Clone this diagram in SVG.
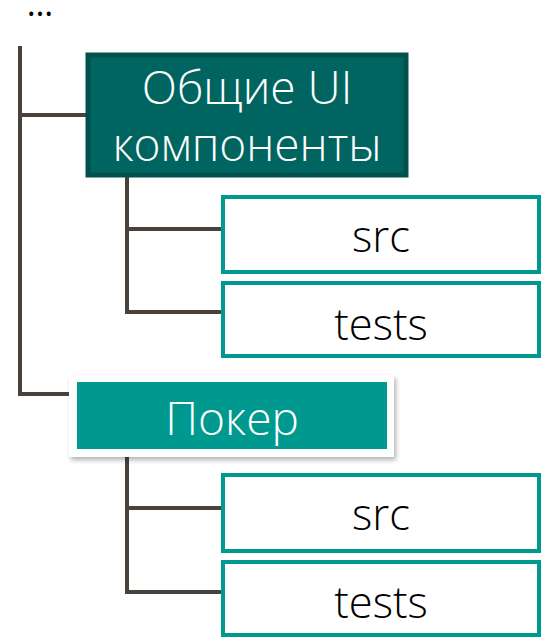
<svg xmlns="http://www.w3.org/2000/svg" width="541" height="637" viewBox="0 0 541 637">
<defs>
<style>
.ln{stroke:#4b413b;stroke-width:4;fill:none;stroke-linecap:square}
.leaf{fill:#ffffff;stroke:#00998f;stroke-width:4}
.lt{font-family:"Open Sans","Noto Sans",sans-serif;font-size:43.5px;font-weight:300;fill:#000000;text-anchor:middle}
.wt{font-family:"Open Sans","Noto Sans",sans-serif;font-size:46px;font-weight:300;fill:#ffffff;text-anchor:middle}
</style>
<filter id="sh" x="-10%" y="-20%" width="120%" height="150%">
<feDropShadow dx="2" dy="3" stdDeviation="2.5" flood-color="#000000" flood-opacity="0.3"/>
</filter>
</defs>
<text x="40" y="16" font-family="Open Sans, sans-serif" font-size="34" fill="#000" text-anchor="middle">…</text>
<g id="connectors">
<path class="ln" d="M20,48 V394 H72"/>
<path class="ln" d="M20,115 H86"/>
<path class="ln" d="M127,179 V312 H221"/>
<path class="ln" d="M127,229 H221"/>
<path class="ln" d="M127,459 V592 H221"/>
<path class="ln" d="M127,508 H221"/>
</g>
<g id="node-common">
<rect x="88" y="55" width="318" height="120" fill="#006560" stroke="#00504b" stroke-width="5"/>
<text class="wt" x="247" y="104">Общие UI</text>
<text class="wt" x="247" y="161">компоненты</text>
</g>
<g id="node-src1">
<rect class="leaf" x="223" y="197" width="316" height="75"/>
<text class="lt" x="381" y="252">src</text>
</g>
<g id="node-tests1">
<rect class="leaf" x="223" y="283" width="316" height="73"/>
<text class="lt" x="381" y="340">tests</text>
</g>
<g id="node-poker">
<rect x="69" y="375" width="325" height="82" fill="#ffffff" filter="url(#sh)"/>
<rect x="77" y="382" width="310" height="67" fill="#00998f"/>
<text class="wt" x="232" y="435">Покер</text>
</g>
<g id="node-src2">
<rect class="leaf" x="223" y="475" width="316" height="76"/>
<text class="lt" x="381" y="530">src</text>
</g>
<g id="node-tests2">
<rect class="leaf" x="223" y="562" width="316" height="73"/>
<text class="lt" x="381" y="618">tests</text>
</g>
</svg>
